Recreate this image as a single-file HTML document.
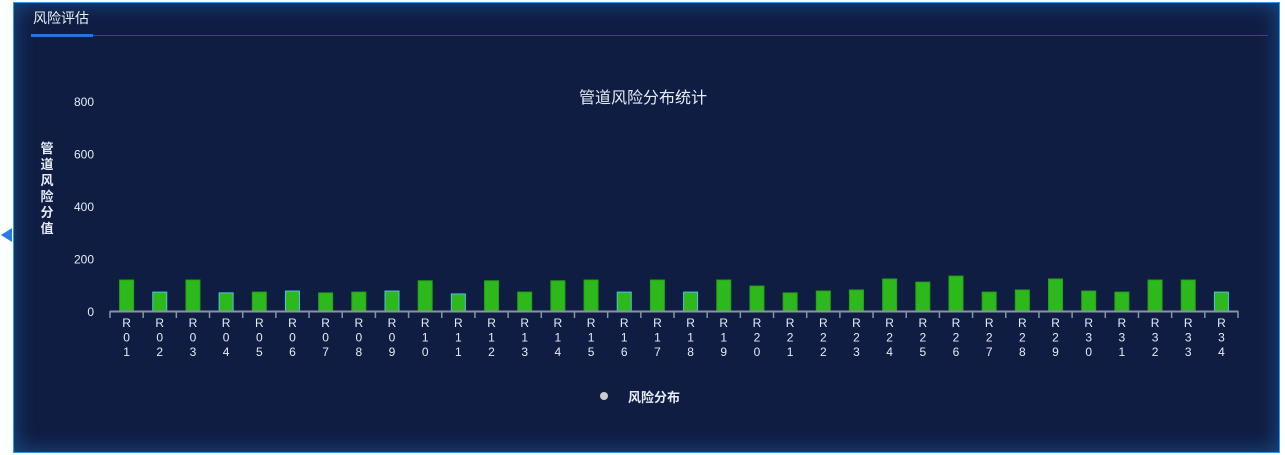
<!DOCTYPE html>
<html><head><meta charset="utf-8"><style>
html,body{margin:0;padding:0;width:1285px;height:455px;background:#fff;overflow:hidden;font-family:"Liberation Sans","Noto Sans CJK SC",sans-serif}
#panel{position:absolute;left:13px;top:2px;width:1265px;height:449px;background:#0f1d42;border:1px solid #2a9bea;box-shadow:inset 0 0 22px rgba(40,140,230,.45)}
#title{position:absolute;left:33px;top:8px;color:#e8eef8;font-size:14px}
#uline{position:absolute;left:31px;top:35px;width:1237px;height:1px;background:#1d4aa0}
#uline2{position:absolute;left:31px;top:34px;width:62px;height:3px;background:#2b73d8}
</style></head><body>
<div id="panel"></div>
<div id="title">风险评估</div>
<div id="uline"></div>
<div id="uline2"></div>
<div style="position:absolute;left:1px;top:228px;width:0;height:0;border-top:7px solid transparent;border-bottom:7px solid transparent;border-right:11px solid #2a7ae8"></div>
<svg width="1285" height="455" style="position:absolute;left:0;top:0" id="chart">
<text x="643" y="103" fill="#e6ebf5" font-size="16" text-anchor="middle">管道风险分布统计</text>
<g id="ylab" fill="#e6ebf5" font-size="13" font-weight="bold" text-anchor="middle"></g>
<g id="yt"></g><g id="bars"></g><g id="xa"></g>
<circle cx="604" cy="396" r="4" fill="#ccc"/>
<text x="628" y="402" fill="#e6ebf5" font-size="13" font-weight="bold">风险分布</text>
</svg>
<script>
const categories=[];for(let i=1;i<=34;i++)categories.push('R'+String(i).padStart(2,'0'));
const values=[118,72,118,69,72,76,69,72,76,115,65,115,72,115,118,72,118,72,118,95,69,76,80,122,110,133,72,80,122,76,72,118,118,72];
const outlined=[0,1,0,1,0,1,0,0,1,0,1,0,0,0,0,1,0,1,0,0,0,0,0,0,0,0,0,0,0,0,0,0,0,1];
const yTicks=[0,200,400,600,800];
const NS='http://www.w3.org/2000/svg';
const x0=110,x1=1238,yb=311,yt=101,ymax=800;
const bw=(x1-x0)/categories.length;
const Y=v=>yb-(v/ymax)*(yb-yt);
const X=i=>x0+bw*(i+0.5);
function mk(t,a,p){const e=document.createElementNS(NS,t);for(const k in a)e.setAttribute(k,a[k]);p.appendChild(e);return e;}
const ylab=document.getElementById('ylab');
'管道风险分值'.split('').forEach((c,i)=>{const t=mk('text',{x:47,y:153+i*16},ylab);t.textContent=c;});
const ytg=document.getElementById('yt');
yTicks.forEach(v=>{const t=mk('text',{x:94,y:Y(v)+5,fill:'#e6ebf5','font-size':12,'text-anchor':'end'},ytg);


t.textContent=v;});
const bg=document.getElementById('bars');
values.forEach((v,i)=>{const r=mk('rect',{x:X(i)-7,y:Y(v),width:14,height:yb-Y(v),fill:'#2db81b',stroke:outlined[i]?'#4fc3e8':'#27a318','stroke-width':1},bg);

});
const xa=document.getElementById('xa');
const ax=mk('line',{x1:x0,y1:yb+.5,x2:x1,y2:yb+.5,stroke:'#8a93a6','stroke-width':2},xa);


for(let i=0;i<=categories.length;i++)mk('line',{x1:x0+bw*i,y1:yb,x2:x0+bw*i,y2:yb+7,stroke:'#8a93a6','stroke-width':1.5},xa);
categories.forEach((c,i)=>{const t=mk('text',{fill:'#e6ebf5','font-size':12,'text-anchor':'middle'},xa);


c.split('').forEach((ch,j)=>{const s=mk('tspan',{x:X(i),y:327+j*14.5},t);s.textContent=ch;});});
</script>
</body></html>
